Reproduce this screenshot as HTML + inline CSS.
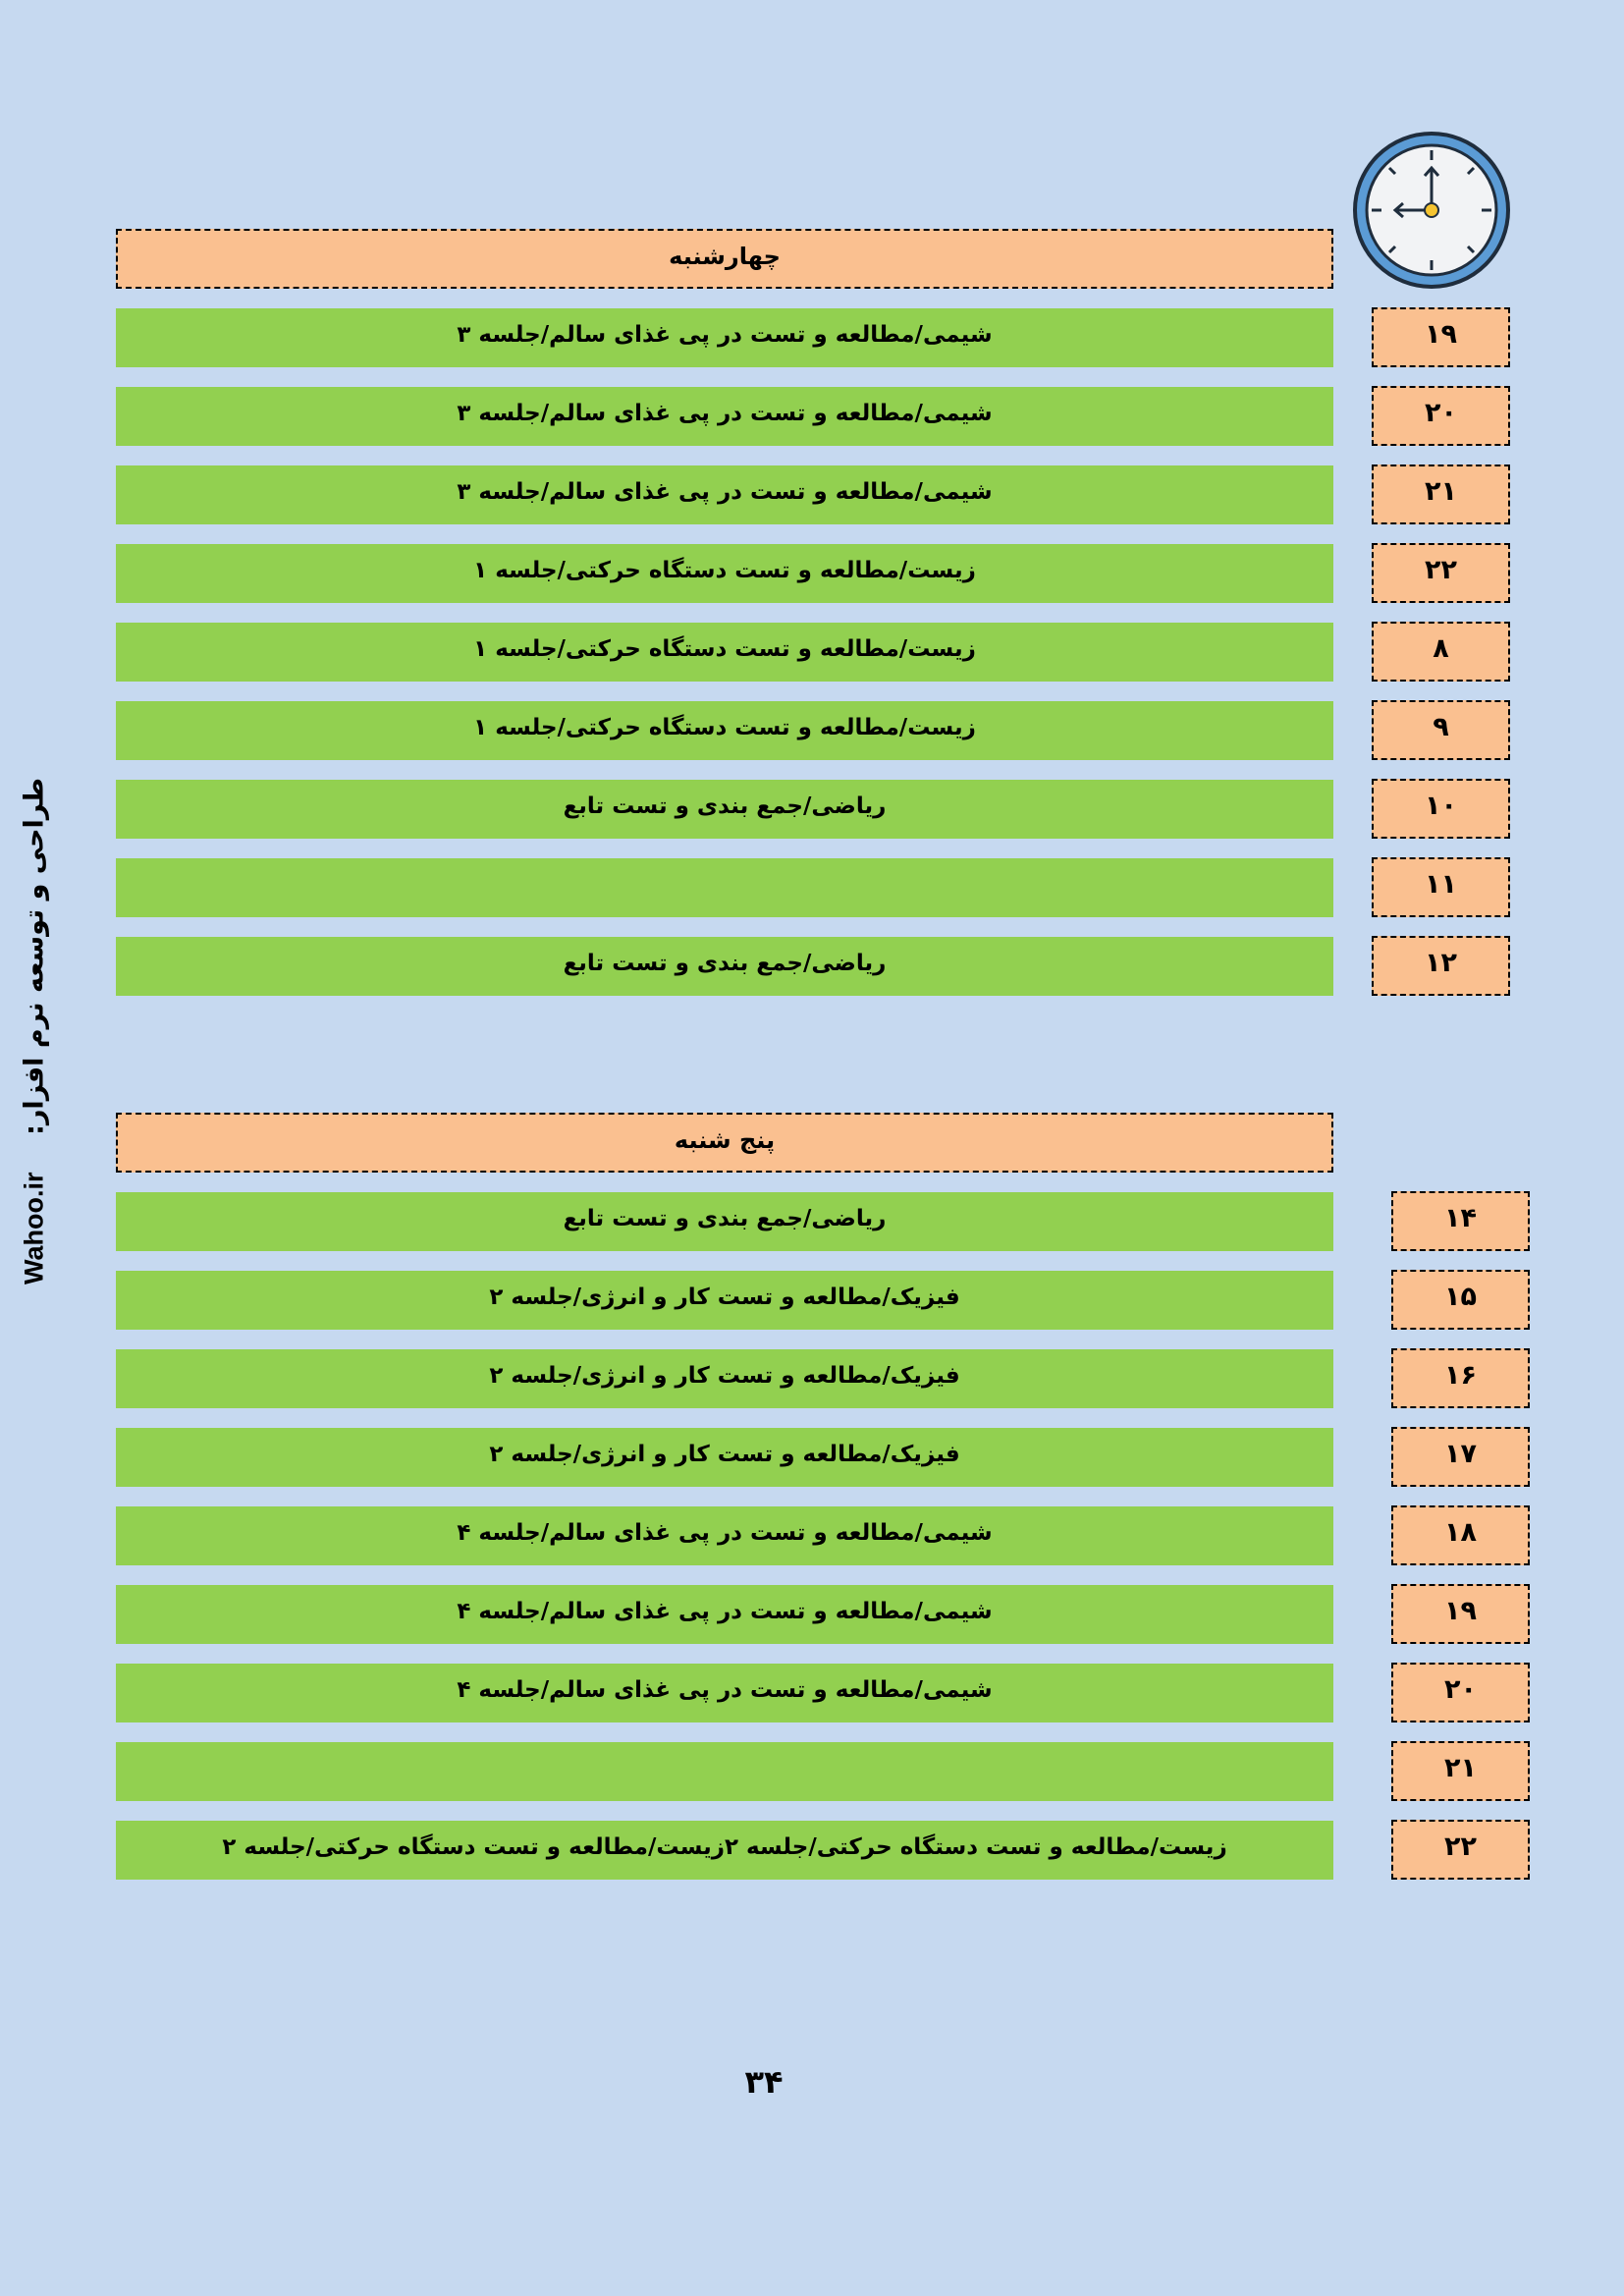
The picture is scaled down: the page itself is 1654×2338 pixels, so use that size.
<!DOCTYPE html>
<html><head><meta charset="utf-8"><style>
body{margin:0;width:1654px;height:2338px;background:#c6d9f0;position:relative;overflow:hidden;font-family:"DejaVu Sans","Liberation Sans",sans-serif;}
.b{position:absolute;box-sizing:border-box;display:flex;align-items:center;justify-content:center;font-weight:bold;color:#000;direction:rtl;}
.g{background:#92d050;left:118px;width:1240px;height:60px;font-size:23px;padding-bottom:6px;}
.h{background:#fac090;border:2px dashed #000;left:118px;width:1240px;height:61px;font-size:24px;padding-bottom:6px;}
.n{background:#fac090;border:2px dashed #000;width:141px;height:61px;font-size:27px;padding-bottom:6px;}
</style></head><body>
<svg style="position:absolute;left:1375px;top:131px" width="166" height="166" viewBox="0 0 166 166">
<circle cx="83" cy="83" r="78" fill="#5b9bd5" stroke="#1f2d3d" stroke-width="4"/>
<circle cx="83" cy="83" r="66" fill="#f2f3f5" stroke="#1f2d3d" stroke-width="3"/>
<g stroke="#1f2d3d" stroke-width="3">
<line x1="83" y1="22" x2="83" y2="32"/><line x1="83" y1="134" x2="83" y2="144"/>
<line x1="22" y1="83" x2="32" y2="83"/><line x1="134" y1="83" x2="144" y2="83"/>
<line x1="40" y1="40" x2="46" y2="46"/><line x1="126" y1="40" x2="120" y2="46"/>
<line x1="40" y1="126" x2="46" y2="120"/><line x1="126" y1="126" x2="120" y2="120"/>
<line x1="83" y1="83" x2="83" y2="40"/><polyline points="76,48 83,40 90,48" fill="none"/>
<line x1="83" y1="83" x2="46" y2="83"/><polyline points="54,76 46,83 54,90" fill="none"/>
</g>
<circle cx="83" cy="83" r="7" fill="#f5c431" stroke="#1f2d3d" stroke-width="2"/>
</svg>

<div class="b h" style="top:233px">چهارشنبه</div>
<div class="b g" style="top:314px">شیمی/مطالعه و تست در پی غذای سالم/جلسه ۳</div>
<div class="b g" style="top:394px">شیمی/مطالعه و تست در پی غذای سالم/جلسه ۳</div>
<div class="b g" style="top:474px">شیمی/مطالعه و تست در پی غذای سالم/جلسه ۳</div>
<div class="b g" style="top:554px">زیست/مطالعه و تست دستگاه حرکتی/جلسه ۱</div>
<div class="b g" style="top:634px">زیست/مطالعه و تست دستگاه حرکتی/جلسه ۱</div>
<div class="b g" style="top:714px">زیست/مطالعه و تست دستگاه حرکتی/جلسه ۱</div>
<div class="b g" style="top:794px">ریاضی/جمع بندی و تست تابع</div>
<div class="b g" style="top:874px"></div>
<div class="b g" style="top:954px">ریاضی/جمع بندی و تست تابع</div>

<div class="b n" style="left:1397px;top:313px">۱۹</div>
<div class="b n" style="left:1397px;top:393px">۲۰</div>
<div class="b n" style="left:1397px;top:473px">۲۱</div>
<div class="b n" style="left:1397px;top:553px">۲۲</div>
<div class="b n" style="left:1397px;top:633px">۸</div>
<div class="b n" style="left:1397px;top:713px">۹</div>
<div class="b n" style="left:1397px;top:793px">۱۰</div>
<div class="b n" style="left:1397px;top:873px">۱۱</div>
<div class="b n" style="left:1397px;top:953px">۱۲</div>

<div class="b h" style="top:1133px">پنج شنبه</div>
<div class="b g" style="top:1214px">ریاضی/جمع بندی و تست تابع</div>
<div class="b g" style="top:1294px">فیزیک/مطالعه و تست کار و انرژی/جلسه ۲</div>
<div class="b g" style="top:1374px">فیزیک/مطالعه و تست کار و انرژی/جلسه ۲</div>
<div class="b g" style="top:1454px">فیزیک/مطالعه و تست کار و انرژی/جلسه ۲</div>
<div class="b g" style="top:1534px">شیمی/مطالعه و تست در پی غذای سالم/جلسه ۴</div>
<div class="b g" style="top:1614px">شیمی/مطالعه و تست در پی غذای سالم/جلسه ۴</div>
<div class="b g" style="top:1694px">شیمی/مطالعه و تست در پی غذای سالم/جلسه ۴</div>
<div class="b g" style="top:1774px"></div>
<div class="b g" style="top:1854px">زیست/مطالعه و تست دستگاه حرکتی/جلسه ۲زیست/مطالعه و تست دستگاه حرکتی/جلسه ۲</div>

<div class="b n" style="left:1417px;top:1213px">۱۴</div>
<div class="b n" style="left:1417px;top:1293px">۱۵</div>
<div class="b n" style="left:1417px;top:1373px">۱۶</div>
<div class="b n" style="left:1417px;top:1453px">۱۷</div>
<div class="b n" style="left:1417px;top:1533px">۱۸</div>
<div class="b n" style="left:1417px;top:1613px">۱۹</div>
<div class="b n" style="left:1417px;top:1693px">۲۰</div>
<div class="b n" style="left:1417px;top:1773px">۲۱</div>
<div class="b n" style="left:1417px;top:1853px">۲۲</div>

<div style="position:absolute;left:35px;top:1050px;transform:translate(-50%,-50%) rotate(-90deg);white-space:nowrap;font-size:27px;font-weight:bold;color:#000;">
<span style="font-family:'Liberation Sans',sans-serif">Wahoo.ir</span>&nbsp;&nbsp;&nbsp;&nbsp;<span dir="rtl">طراحی و توسعه نرم افزار:</span></div>

<div style="position:absolute;left:778px;top:2120px;transform:translate(-50%,-50%);font-size:32px;font-weight:bold;">۳۴</div>
</body></html>
